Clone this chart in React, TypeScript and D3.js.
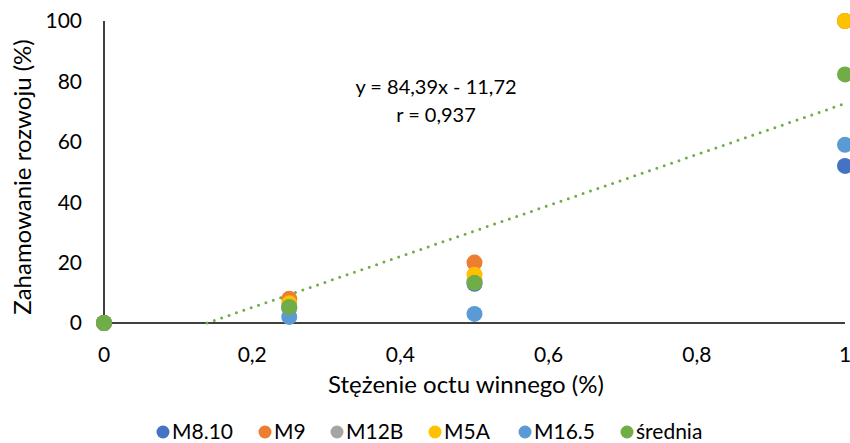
import { useEffect } from "react"
import * as d3 from "d3"

// x values (vinegar concentration, %)
const concentrations = [0, 0.25, 0.5, 1]

const seriesNames = ["M8.10", "M9", "M12B", "M5A", "M16.5", "średnia"]
const seriesColors = ["#4472C4", "#ED7D31", "#A5A5A5", "#FFC000", "#5B9BD5", "#70AD47"]

const m810 = [0, 5, 13, 52]
const m9 = [0, 8, 20, 100]
const m12b = [0, 5, 14, 100]
const m5a = [0, 6.5, 16, 100]
const m165 = [0, 2, 3, 59]
const srednia = [0, 5.3, 13.3, 82.3]

const seriesValues = [m810, m9, m12b, m5a, m165, srednia]

const xTicks = [0, 0.2, 0.4, 0.6, 0.8, 1]
const yTicks = [0, 20, 40, 60, 80, 100]

// trend line for "średnia"
const slope = 84.39
const intercept = -11.72
const trendLabel = "y = 84,39x - 11,72"
const rLabel = "r = 0,937"

const FONT = "Lato, 'Open Sans', sans-serif"

export default function App() {
  useEffect(() => {
    document.body.style.margin = "0"
  }, [])

  const width = 850
  const height = 443
  const margin = { top: 21, right: 5, bottom: 120, left: 104 }

  const x = d3.scaleLinear().domain([0, 1]).range([margin.left, width - margin.right])
  const y = d3.scaleLinear().domain([0, 100]).range([height - margin.bottom, margin.top])

  const fmt = (v: number) => String(v).replace(".", ",")

  // trend line from where it crosses 0 up to x = 1
  const xStart = Math.max(0, -intercept / slope)
  const trendPts: [number, number][] = [
    [xStart, slope * xStart + intercept],
    [1, slope * 1 + intercept],
  ]
  const trendPath = d3
    .line<[number, number]>()
    .x(d => x(d[0]))
    .y(d => y(d[1]))(trendPts)

  // legend layout
  const legendY = 432
  const legendX = [163, 265, 337, 435, 525, 627]

  return (
    <svg width={width} height={height} style={{ display: "block", fontFamily: FONT }}>
      <rect width={width} height={height} fill="#fff" />

      {/* y tick labels */}
      {yTicks.map(t => (
        <text
          key={t}
          x={82}
          y={y(t)}
          dy="0.35em"
          textAnchor="end"
          fontSize={21}
          fill="#000"
        >
          {t}
        </text>
      ))}

      {/* x tick labels */}
      {xTicks.map(t => (
        <text key={t} x={x(t)} y={355} dy="0.35em" textAnchor="middle" fontSize={21} fill="#000">
          {fmt(t)}
        </text>
      ))}

      {/* axes */}
      <line x1={x(0)} x2={x(0)} y1={y(0)} y2={y(100)} stroke="#000" strokeWidth={1.5} />
      <line x1={x(0)} x2={x(1)} y1={y(0)} y2={y(0)} stroke="#000" strokeWidth={1.5} />

      {/* axis titles */}
      <text x={466} y={393} textAnchor="middle" fontSize={24} fill="#000">
        Stężenie octu winnego (%)
      </text>
      <text
        transform={`translate(23,177) rotate(-90)`}
        dy="0.35em"
        textAnchor="middle"
        fontSize={24}
        fill="#000"
      >
        Zahamowanie rozwoju (%)
      </text>

      {/* trend line */}
      <path
        d={trendPath || ""}
        fill="none"
        stroke="#70AD47"
        strokeWidth={3}
        strokeLinecap="round"
        strokeDasharray="0 7.8"
      />

      {/* points */}
      {seriesValues.map((vals, si) => (
        <g key={seriesNames[si]}>
          {vals.map((v, i) => (
            <circle
              key={i}
              cx={x(concentrations[i])}
              cy={y(v)}
              r={8}
              fill={seriesColors[si]}
            />
          ))}
        </g>
      ))}

      {/* equation */}
      <text x={436} y={87} dy="0.35em" textAnchor="middle" fontSize={20} fill="#000">
        {trendLabel}
      </text>
      <text x={436} y={115} dy="0.35em" textAnchor="middle" fontSize={20} fill="#000">
        {rLabel}
      </text>

      {/* legend */}
      {seriesNames.map((name, i) => (
        <g key={name} transform={`translate(${legendX[i]},${legendY})`}>
          <circle r={6.5} fill={seriesColors[i]} />
          <text x={9} dy="0.35em" fontSize={21} fill="#000">
            {name}
          </text>
        </g>
      ))}
    </svg>
  )
}
